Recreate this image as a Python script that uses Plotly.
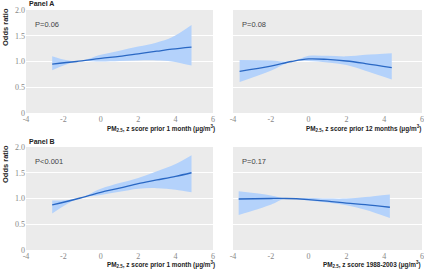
import plotly.graph_objects as go

# ---- data ----
a1_x = [-2.6, -1.3, 0, 1, 2, 3, 3.8, 4.85]
a1_or = [0.95, 1.0, 1.06, 1.10, 1.15, 1.20, 1.24, 1.28]
a1_lo = [0.83, 1.0, 1.0, 1.01, 1.02, 1.02, 1.0, 0.92]
a1_hi = [1.10, 1.0, 1.13, 1.21, 1.29, 1.37, 1.47, 1.71]

a2_x = [-3.65, -2, -0.9, 0, 1, 2, 3, 4.4]
a2_or = [0.81, 0.91, 1.0, 1.05, 1.04, 1.01, 0.96, 0.88]
a2_lo = [0.60, 0.82, 1.0, 1.01, 0.98, 0.93, 0.82, 0.65]
a2_hi = [1.03, 1.02, 1.0, 1.11, 1.11, 1.10, 1.13, 1.16]

b1_x = [-2.6, -1.2, 0, 1, 2, 3, 4, 4.85]
b1_or = [0.875, 1.0, 1.12, 1.2, 1.29, 1.36, 1.43, 1.5]
b1_lo = [0.71, 1.0, 1.07, 1.13, 1.19, 1.20, 1.17, 1.12]
b1_hi = [0.96, 1.0, 1.19, 1.30, 1.40, 1.53, 1.67, 1.84]

b2_x = [-3.7, -2, -1.2, 0, 1, 2, 3, 4.3]
b2_or = [0.99, 1.0, 1.0, 0.98, 0.95, 0.91, 0.88, 0.83]
b2_lo = [0.68, 0.88, 1.0, 0.96, 0.92, 0.87, 0.78, 0.62]
b2_hi = [1.14, 1.06, 1.0, 1.01, 1.0, 1.0, 1.03, 1.08]

p_labels = ["P=0.06", "P=0.08", "P<0.001", "P=0.17"]
x_titles = [
    "PM<sub>2.5</sub>, z score prior 1 month (μg/m<sup>3</sup>)",
    "PM<sub>2.5</sub>, z score prior 12 months (μg/m<sup>3</sup>)",
    "PM<sub>2.5</sub>, z score prior 1 month (μg/m<sup>3</sup>)",
    "PM<sub>2.5</sub>, z score 1988-2003 (μg/m<sup>3</sup>)",
]
x_ticks = [-4, -2, 0, 2, 4, 6]
y_ticks = [0, 0.5, 1.0, 1.5, 2.0]
y_ticktext = ["0", "0.5", "1.0", "1.5", "2.0"]

W, H = 424, 274
BAND = "#b4d2fb"
LINE = "#2a68c4"
BG = "#ebebeb"
TITLE_FONT = "Liberation Sans Narrow, Liberation Sans, sans-serif"

def px(v):
    return v / W

def py(v):
    return 1 - v / H

xdoms = [[px(26), px(213)], [px(233), px(422)]]
ydoms = [[py(113), py(10)], [py(250), py(147)]]

fig = go.Figure()
panels = [(a1_x, a1_or, a1_lo, a1_hi), (a2_x, a2_or, a2_lo, a2_hi),
          (b1_x, b1_or, b1_lo, b1_hi), (b2_x, b2_or, b2_lo, b2_hi)]

tickfont = dict(family="Liberation Serif, serif", size=8, color="#888")
annots = []
for i, (xs, ors, lo, hi) in enumerate(panels):
    r, c = divmod(i, 2)
    n = i + 1
    xa = "x" if n == 1 else f"x{n}"
    ya = "y" if n == 1 else f"y{n}"
    fig.add_trace(go.Scatter(x=xs, y=lo, mode="lines",
                             line=dict(width=0, shape="spline", color=BAND),
                             hoverinfo="skip", showlegend=False, xaxis=xa, yaxis=ya))
    fig.add_trace(go.Scatter(x=xs, y=hi, mode="lines", fill="tonexty", fillcolor=BAND,
                             line=dict(width=0, shape="spline", color=BAND),
                             hoverinfo="skip", showlegend=False, xaxis=xa, yaxis=ya))
    fig.add_trace(go.Scatter(x=xs, y=ors, mode="lines",
                             line=dict(color=LINE, width=1.3, shape="spline"),
                             showlegend=False, xaxis=xa, yaxis=ya))
    xkey = "xaxis" if n == 1 else f"xaxis{n}"
    ykey = "yaxis" if n == 1 else f"yaxis{n}"
    fig.layout[xkey] = dict(domain=xdoms[c], range=[-4, 6], tickvals=x_ticks,
                            ticktext=[str(t) for t in x_ticks], automargin=False,
                            showgrid=False, zeroline=False, showline=False,
                            tickfont=tickfont, ticks="", ticklen=0, anchor=ya)
    fig.layout[ykey] = dict(domain=ydoms[r], range=[0, 2], tickvals=y_ticks,
                            ticktext=y_ticktext, showgrid=True, gridcolor="white",
                            gridwidth=1, zeroline=False, showline=False, automargin=False,
                            showticklabels=(c == 0), tickfont=tickfont, ticks="",
                            ticklen=0, anchor=xa)
    fig.add_shape(type="rect", xref=f"{xa} domain", yref=f"{ya} domain",
                  x0=0, x1=1, y0=0, y1=1, fillcolor=BG, line_width=0, layer="below")
    annots.append(dict(text=p_labels[i], xref=f"{xa} domain", yref=f"{ya} domain",
                       x=0.035, y=0.86, xanchor="left", yanchor="middle", showarrow=False,
                       font=dict(family="Liberation Sans, sans-serif", size=7.5, color="#444")))
    annots.append(dict(text="<b>" + x_titles[i] + "</b>", xref="paper", yref="paper",
                       x=px(217 if c == 0 else 423), y=py(128 if r == 0 else 264),
                       xanchor="right", yanchor="middle", showarrow=False,
                       font=dict(family=TITLE_FONT, size=6.4, color="#222")))

for r, lab in enumerate(["Panel A", "Panel B"]):
    top = 0 if r == 0 else 137
    annots.append(dict(text="<b>" + lab + "</b>", xref="paper", yref="paper",
                       x=px(27), y=py(top + 4), xanchor="left", yanchor="middle",
                       showarrow=False,
                       font=dict(family=TITLE_FONT, size=7, color="#222")))
    annots.append(dict(text="<b>Odds ratio</b>", xref="paper", yref="paper",
                       x=px(5), y=py(top + 27), xanchor="center", yanchor="middle",
                       textangle=-90, showarrow=False,
                       font=dict(family=TITLE_FONT, size=7.5, color="#222")))

fig.update_layout(template="none", width=W, height=H, margin=dict(l=0, r=0, t=0, b=0),
                  paper_bgcolor="white", plot_bgcolor=BG, annotations=annots)

fig.write_html("out.html", config={"displayModeBar": False},
               post_script="document.body.style.margin='0';document.body.style.overflow='hidden';")
